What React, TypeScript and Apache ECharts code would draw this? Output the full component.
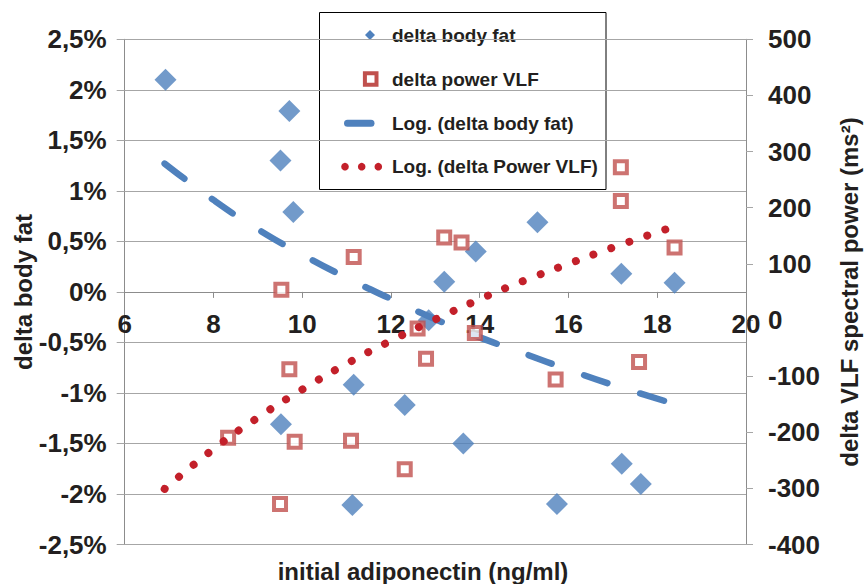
import React, { useEffect, useRef } from "react";
import * as echarts from "echarts";

// ---- data ----
const bodyFatX = [6.92, 9.51, 9.71, 9.8, 9.52, 11.16, 11.13, 12.31, 12.85, 13.2, 13.91, 13.63, 15.3, 15.74, 17.19, 17.2, 17.63, 18.39];
const bodyFatY = [2.1, 1.3, 1.79, 0.79, -1.31, -0.92, -2.11, -1.12, -0.28, 0.1, 0.4, -1.5, 0.69, -2.1, 0.18, -1.7, -1.9, 0.09];

const vlfX = [8.33, 9.5, 9.53, 9.71, 9.83, 11.1, 11.16, 12.31, 12.6, 12.79, 13.2, 13.59, 13.89, 15.71, 17.18, 17.18, 17.59, 18.39];
const vlfY = [-210, -328, 54, -88, -217, -215, 112, -266, -15, -69, 147, 138, -23, -106, 272, 212, -75, 129];

// logarithmic trend lines as drawn in the picture
const bodyFatTrendX = [6.9, 8, 9, 10, 11, 12, 13, 14, 15, 16, 17, 18.4];
const bodyFatTrendY = [1.27, 0.91, 0.62, 0.37, 0.14, -0.07, -0.27, -0.45, -0.61, -0.77, -0.92, -1.11];
const vlfTrendX = [6.9, 8, 9, 10, 11, 12, 13, 14, 15, 16, 17, 18.25];
const vlfTrendY = [-301, -230, -174, -124, -78, -37, 1, 37, 70, 100, 129, 163];

const legendNames = ["delta body fat", "delta power VLF", "Log. (delta body fat)", "Log. (delta Power VLF)"];
const xTitle = "initial adiponectin (ng/ml)";
const yLeftTitle = "delta body fat";
const yRightTitle = "delta VLF spectral power (ms²)";

const BLUE = "#4f81bd";
const RED_SQ = "#c0504d";
const RED_DOT = "#c3202a";
const TEXT = "#231f20";
const GRID = "#a6a6a6";
const AXIS = "#8c8c8c";
const FONT = "'Liberation Sans', Arial, Helvetica, sans-serif";

const GRID_TOP = 39.3;
const GRID_BOTTOM = 39.5;
const CHART_H = 584;

const zip = (xs: number[], ys: number[]) => xs.map((x, i) => [x, ys[i]]);

export default function App() {
  const ref = useRef<HTMLDivElement>(null);
  useEffect(() => {
    if (!ref.current) return;
    const chart = echarts.init(ref.current, null, { renderer: "svg" });
    const tickFont = { fontFamily: FONT, fontWeight: "bold" as const, fontSize: 26, color: TEXT };
    const titleFont = { fontFamily: FONT, fontWeight: "bold" as any, fontSize: 24, fill: TEXT };
    const legFont = { fontFamily: FONT, fontWeight: "bold" as any, fontSize: 19, fill: TEXT };
    const rowY = [35, 79, 123.3, 166.7];
    const plotH = CHART_H - GRID_TOP - GRID_BOTTOM;
    // left axis spans -2.5..2.5, so its zero lies at half the plot height
    const xAxisOffset = -plotH / 2;
    const option: any = {
      animation: false,
      backgroundColor: "#ffffff",
      grid: { left: 124.7, right: 118, top: GRID_TOP, bottom: GRID_BOTTOM, containLabel: false },
      xAxis: {
        type: "value",
        min: 6,
        max: 20,
        interval: 2,
        offset: xAxisOffset,
        axisLine: { show: true, onZero: false, lineStyle: { color: AXIS, width: 1 } },
        axisTick: { show: true, inside: false, length: 6, lineStyle: { color: AXIS } },
        axisLabel: { ...tickFont, margin: 19 },
        splitLine: { show: false },
      },
      yAxis: [
        {
          type: "value",
          position: "left",
          min: -2.5,
          max: 2.5,
          interval: 0.5,
          axisLine: { show: true, onZero: false, lineStyle: { color: AXIS, width: 1 } },
          axisTick: { show: true, inside: false, length: 8, lineStyle: { color: GRID } },
          axisLabel: {
            ...tickFont,
            margin: 18,
            formatter: (v: number) => String(Math.round(v * 10) / 10).replace(".", ",") + "%",
          },
          splitLine: { show: true, lineStyle: { color: GRID, width: 1 } },
        },
        {
          type: "value",
          position: "right",
          min: -400,
          max: 500,
          interval: 100,
          axisLine: { show: true, onZero: false, lineStyle: { color: AXIS, width: 1 } },
          axisTick: { show: true, inside: false, length: 7, lineStyle: { color: GRID } },
          axisLabel: { ...tickFont, margin: 22 },
          splitLine: { show: false },
        },
      ],
      series: [
        {
          name: legendNames[0],
          type: "scatter",
          yAxisIndex: 0,
          symbol: "diamond",
          symbolSize: 22,
          itemStyle: { color: BLUE },
          data: zip(bodyFatX, bodyFatY),
          z: 2,
        },
        {
          name: legendNames[2],
          type: "line",
          yAxisIndex: 0,
          showSymbol: false,
          symbol: "none",
          smooth: true,
          lineStyle: { color: BLUE, width: 6.5, type: [25, 34], cap: "round" },
          data: zip(bodyFatTrendX, bodyFatTrendY),
          z: 3,
        },
        {
          name: legendNames[1],
          type: "scatter",
          yAxisIndex: 1,
          symbol: "rect",
          symbolSize: 12,
          itemStyle: { color: "#ffffff", borderColor: RED_SQ, borderWidth: 4 },
          data: zip(vlfX, vlfY),
          z: 4,
        },
        {
          name: legendNames[3],
          type: "line",
          yAxisIndex: 1,
          showSymbol: false,
          symbol: "none",
          smooth: true,
          lineStyle: { color: RED_DOT, width: 8, type: [0.01, 18.9], cap: "round" },
          data: zip(vlfTrendX, vlfTrendY),
          z: 5,
        },
      ],
      graphic: [
        {
          type: "text",
          x: 23,
          y: 292,
          rotation: Math.PI / 2,
          style: { text: yLeftTitle, ...titleFont, textAlign: "center", textVerticalAlign: "middle" },
        },
        {
          type: "text",
          x: 849,
          y: 292,
          rotation: Math.PI / 2,
          style: { text: yRightTitle, ...titleFont, textAlign: "center", textVerticalAlign: "middle" },
        },
        {
          type: "text",
          x: 423,
          y: 571,
          style: { text: xTitle, ...titleFont, textAlign: "center", textVerticalAlign: "middle" },
        },
        {
          type: "group",
          z: 100,
          children: [
            {
              type: "rect",
              shape: { x: 319.5, y: 12.5, width: 286.5, height: 177 },
              style: { fill: "#ffffff", stroke: "#000000", lineWidth: 1 },
            },
            {
              type: "polygon",
              shape: { points: [[370, rowY[0] - 5], [375, rowY[0]], [370, rowY[0] + 5], [365, rowY[0]]] },
              style: { fill: BLUE },
            },
            {
              type: "rect",
              shape: { x: 370.7 - 5.8, y: rowY[1] - 5.8, width: 11.6, height: 11.6 },
              style: { fill: "#ffffff", stroke: RED_SQ, lineWidth: 4 },
            },
            {
              type: "line",
              shape: { x1: 347.5, y1: rowY[2], x2: 371, y2: rowY[2] },
              style: { stroke: BLUE, lineWidth: 7, lineCap: "round" },
            },
            ...[345, 361.7, 378.3].map((cx) => ({
              type: "circle",
              shape: { cx, cy: rowY[3], r: 3.8 },
              style: { fill: RED_DOT },
            })),
            ...legendNames.map((name, i) => ({
              type: "text",
              x: 392,
              y: rowY[i],
              style: { text: name, ...legFont, textAlign: "left", textVerticalAlign: "middle" },
            })),
          ],
        },
      ],
    };
    chart.setOption(option);
    return () => chart.dispose();
  }, []);
  return (
    <div
      ref={ref}
      style={{ position: "fixed", left: 0, top: 0, width: 864, height: 584, background: "#fff" }}
    />
  );
}
